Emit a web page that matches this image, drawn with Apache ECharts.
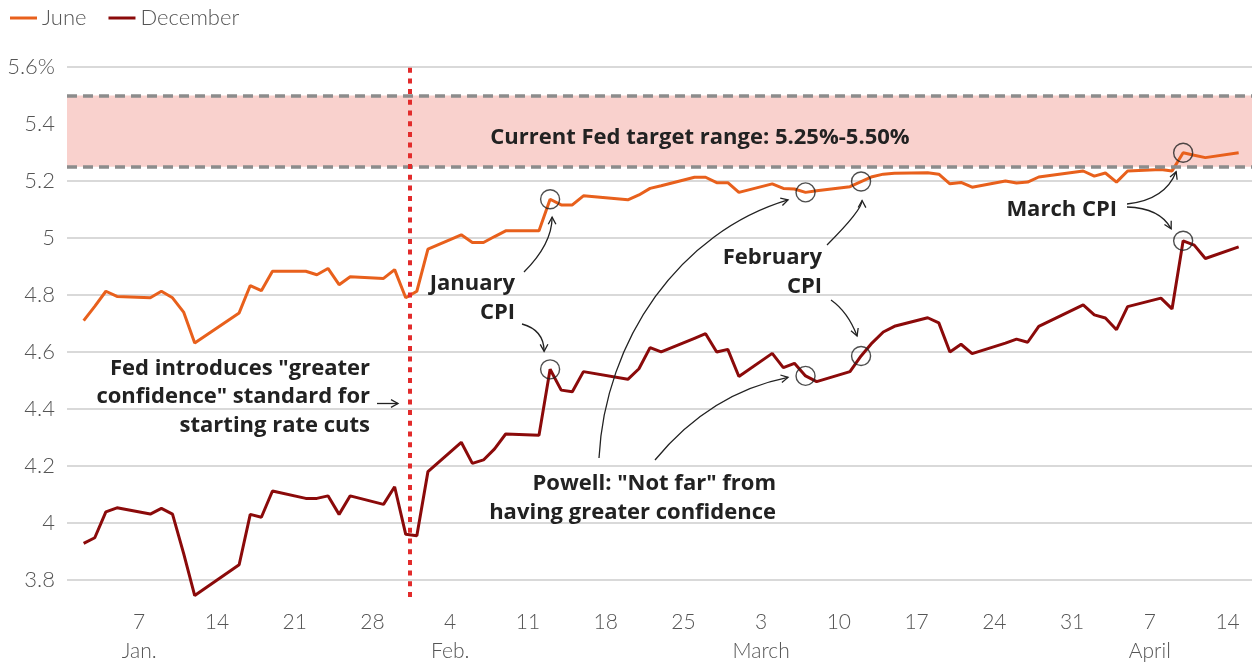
<!DOCTYPE html>
<html>
<head>
<meta charset="utf-8">
<style>
html, body { margin: 0; padding: 0; background: #fff; }
#main { width: 1252px; height: 666px; }
</style>
<script src="https://cdn.jsdelivr.net/npm/echarts@6/dist/echarts.min.js"></script>
</head>
<body>
<div id="main"></div>
<script>
// trading days, 2024
const dates = [
  '2024-01-02','2024-01-03','2024-01-04','2024-01-05','2024-01-08','2024-01-09','2024-01-10','2024-01-11','2024-01-12',
  '2024-01-16','2024-01-17','2024-01-18','2024-01-19','2024-01-22','2024-01-23','2024-01-24','2024-01-25','2024-01-26',
  '2024-01-29','2024-01-30','2024-01-31',
  '2024-02-01','2024-02-02','2024-02-05','2024-02-06','2024-02-07','2024-02-08','2024-02-09','2024-02-12','2024-02-13',
  '2024-02-14','2024-02-15','2024-02-16','2024-02-20','2024-02-21','2024-02-22','2024-02-23','2024-02-26','2024-02-27',
  '2024-02-28','2024-02-29',
  '2024-03-01','2024-03-04','2024-03-05','2024-03-06','2024-03-07','2024-03-08','2024-03-11','2024-03-12','2024-03-13',
  '2024-03-14','2024-03-15','2024-03-18','2024-03-19','2024-03-20','2024-03-21','2024-03-22','2024-03-25','2024-03-26',
  '2024-03-27','2024-03-28',
  '2024-04-01','2024-04-02','2024-04-03','2024-04-04','2024-04-05','2024-04-08','2024-04-09','2024-04-10','2024-04-11',
  '2024-04-12','2024-04-15'
];
const june = [
  4.71, 4.76, 4.813, 4.795, 4.79, 4.813, 4.79, 4.74, 4.631,
  4.737, 4.833, 4.815, 4.883, 4.883, 4.871, 4.893, 4.836, 4.864,
  4.858, 4.889, 4.79,
  4.813, 4.961, 5.011, 4.984, 4.984, 5.005, 5.025, 5.025, 5.136,
  5.116, 5.116, 5.148, 5.134, 5.151, 5.174, 5.183, 5.213, 5.213,
  5.194, 5.194,
  5.16, 5.19, 5.174, 5.172, 5.16, 5.166, 5.18, 5.198, 5.215,
  5.224, 5.227, 5.229, 5.224, 5.19, 5.195, 5.178, 5.2, 5.193,
  5.196, 5.214,
  5.235, 5.217, 5.228, 5.196, 5.235, 5.24, 5.235, 5.299, 5.29,
  5.282, 5.299
];
const december = [
  3.928, 3.948, 4.039, 4.053, 4.031, 4.051, 4.031, 3.893, 3.745,
  3.853, 4.03, 4.02, 4.112, 4.086, 4.086, 4.095, 4.03, 4.095,
  4.065, 4.127, 3.96,
  3.955, 4.18, 4.283, 4.209, 4.221, 4.26, 4.312, 4.308, 4.539,
  4.466, 4.46, 4.531, 4.504, 4.541, 4.615, 4.6, 4.648, 4.664,
  4.6, 4.609,
  4.514, 4.595, 4.545, 4.56, 4.516, 4.496, 4.531, 4.586, 4.632,
  4.67, 4.69, 4.72, 4.702, 4.6, 4.627, 4.594, 4.631, 4.645,
  4.634, 4.69,
  4.765, 4.73, 4.719, 4.678, 4.759, 4.789, 4.751, 4.99, 4.975,
  4.928, 4.969
];
const xTicks = [7, 14, 21, 28, 35, 42, 49, 56, 63, 70, 77, 84, 91, 98, 105]; // day of year, Sundays
const monthNames = ['Jan.', 'Feb.', 'March', 'April'];
const yTicks = [3.8, 4, 4.2, 4.4, 4.6, 4.8, 5, 5.2, 5.4, 5.6];
const yTickLabels = ['3.8', '4', '4.2', '4.4', '4.6', '4.8', '5', '5.2', '5.4', '5.6%'];
const fedRange = [5.25, 5.5];
const fedMeetingDay = 31.4;
const cpiDates = ['2024-02-13', '2024-03-07', '2024-03-12', '2024-04-10'];

const COL_JUNE = '#e8601c';
const COL_DEC = '#8b0a0a';
const INK = '#222';
const FONT = 'Lato, "Open Sans", sans-serif';
const NOTE_FONT = '"Open Sans", "Noto Sans", sans-serif';

function dayOfYear(s) {
  const d = new Date(s + 'T00:00:00Z');
  return (d - Date.UTC(2024, 0, 1)) / 86400000 + 1;
}
const days = dates.map(dayOfYear);
const juneData = days.map((d, i) => [d, june[i]]);
const decData = days.map((d, i) => [d, december[i]]);
const circleData = [];
cpiDates.forEach(s => {
  const i = dates.indexOf(s);
  circleData.push([days[i], june[i]]);
  circleData.push([days[i], december[i]]);
});

const chart = echarts.init(document.getElementById('main'));

chart.setOption({
  animation: false,
  textStyle: { fontFamily: FONT },
  legend: {
    left: 5, top: 2,
    itemWidth: 27, itemHeight: 3, itemGap: 22,
    icon: 'rect',
    data: ['June', 'December'],
    textStyle: { fontSize: 22, color: '#555', fontWeight: 300, fontFamily: FONT }
  },
  grid: { left: 67, right: 0, top: 67, bottom: 68 },
  xAxis: {
    type: 'value',
    min: 0.5, max: 107.2,
    axisLine: { show: false },
    axisTick: { show: false, customValues: xTicks },
    splitLine: { show: false },
    axisLabel: {
      customValues: xTicks,
      margin: 11,
      fontSize: 21, lineHeight: 29, color: '#555', fontWeight: 300,
      formatter: v => {
        const d = new Date(Date.UTC(2024, 0, v));
        const day = d.getUTCDate();
        return day <= 7 ? day + '\n' + monthNames[d.getUTCMonth()] : String(day);
      }
    }
  },
  yAxis: {
    type: 'value',
    min: 3.74, max: 5.6,
    axisLine: { show: false },
    axisTick: { show: false, customValues: yTicks },
    splitLine: { show: true, lineStyle: { color: '#cccccc', width: 1.5 } },
    axisLabel: {
      customValues: yTicks,
      margin: 12,
      fontSize: 22, color: '#555', fontWeight: 300,
      formatter: v => yTickLabels[yTicks.findIndex(t => Math.abs(t - v) < 1e-6)]
    }
  },
  series: [
    {
      name: 'June',
      type: 'line',
      data: juneData,
      showSymbol: false,
      color: COL_JUNE,
      lineStyle: { width: 3, color: COL_JUNE },
      z: 3,
      markArea: {
        silent: true,
        itemStyle: { color: '#f9d1cd' },
        data: [[{ yAxis: fedRange[0] }, { yAxis: fedRange[1] }]]
      },
      markLine: {
        silent: true,
        symbol: 'none',
        label: { show: false },
        lineStyle: { color: '#8c8c8c', width: 3.5, type: [10, 6] },
        data: [{ yAxis: fedRange[0] }, { yAxis: fedRange[1] }]
      }
    },
    {
      name: 'December',
      type: 'line',
      data: decData,
      showSymbol: false,
      color: COL_DEC,
      lineStyle: { width: 3, color: COL_DEC },
      z: 3,
      markLine: {
        silent: true,
        symbol: 'none',
        label: { show: false },
        lineStyle: { color: '#e22b2b', width: 4, type: [5, 5.7] },
        data: [{ xAxis: fedMeetingDay }]
      }
    },
    {
      name: 'events',
      type: 'scatter',
      data: circleData,
      symbolSize: 19,
      silent: true,
      z: 5,
      itemStyle: { color: 'rgba(0,0,0,0)', borderColor: INK, borderWidth: 1.4 }
    }
  ]
});

// annotations
function px(i) { return chart.convertToPixel({ gridIndex: 0 }, circleData[i]); }

function arrow(from, ctrl1, ctrl2, tip) {
  const last = ctrl2 || ctrl1;
  const ang = Math.atan2(tip[1] - last[1], tip[0] - last[0]);
  const L = 8, a = 0.5;
  const head = [
    [tip[0] - L * Math.cos(ang - a), tip[1] - L * Math.sin(ang - a)],
    tip,
    [tip[0] - L * Math.cos(ang + a), tip[1] - L * Math.sin(ang + a)]
  ];
  const shape = { x1: from[0], y1: from[1], x2: tip[0], y2: tip[1], cpx1: ctrl1[0], cpy1: ctrl1[1] };
  if (ctrl2) { shape.cpx2 = ctrl2[0]; shape.cpy2 = ctrl2[1]; }
  return [
    { type: 'bezierCurve', shape: shape, style: { stroke: INK, lineWidth: 1.3, fill: null }, z: 10, silent: true },
    { type: 'polyline', shape: { points: head }, style: { stroke: INK, lineWidth: 1.3, fill: null }, z: 10, silent: true }
  ];
}
function off(p, dx, dy) { return [p[0] + dx, p[1] + dy]; }

function note(text, x, y, align) {
  return {
    type: 'text', x: x, y: y, z: 10, silent: true,
    style: {
      text: text, align: align || 'right', verticalAlign: 'middle',
      font: 'bold 22px ' + NOTE_FONT, fill: INK, lineHeight: 28.5
    }
  };
}

const jF = px(0), dF = px(1), jM7 = px(2), dM7 = px(3), jM12 = px(4), dM12 = px(5), jA = px(6), dA = px(7);

const graphics = [].concat(
  note('Current Fed target range: 5.25%-5.50%', 700, 138, 'center'),
  note('Fed introduces "greater\nconfidence" standard for\nstarting rate cuts', 370, 397),
  arrow([377, 403.5], [387, 403.5], null, [398, 403.5]),
  note('January\nCPI', 515, 298),
  arrow([524, 272], [552, 244], null, off(jF, 2, 18)),
  arrow([522, 324], [544, 330], null, off(dF, -6, -18)),
  note('Powell: "Not far" from\nhaving greater confidence', 776, 498),
  arrow([599, 458], [605, 340], [680, 232], off(jM7, -17.5, 7.5)),
  arrow([655, 460], [710, 393], null, off(dM7, -17.5, 1.5)),
  note('February\nCPI', 822, 272),
  arrow([827, 245], [862, 210], null, off(jM12, 1, 19)),
  arrow([831, 300], [848, 312], null, off(dM12, -4, -20)),
  note('March CPI', 1117, 210),
  arrow([1127, 204], [1165, 200], null, off(jA, -7, 19)),
  arrow([1127, 207], [1160, 208], null, off(dA, -12, -12))
);
chart.setOption({ graphic: graphics });
</script>
</body>
</html>
